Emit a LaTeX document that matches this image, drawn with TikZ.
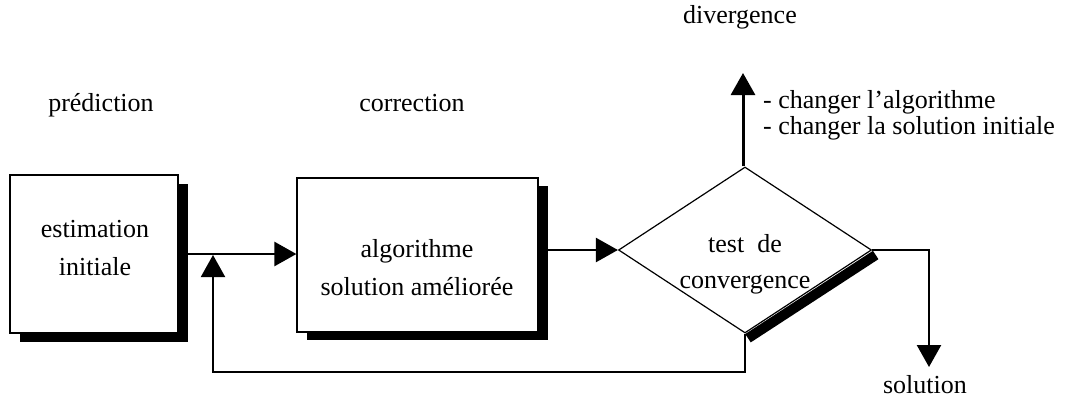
\documentclass[tikz,border=0pt]{standalone}
\usepackage{fontspec}
\setmainfont{Liberation Serif}
\usetikzlibrary{arrows.meta,shapes.geometric}
\begin{document}
\begin{tikzpicture}[x=1pt,y=-1pt,
  box/.style={draw,fill=white,line width=1.2pt,inner sep=0pt},
  shadowbox/.style={fill=black,inner sep=0pt},
  txt/.style={font=\fontsize{26}{30}\selectfont,anchor=base,inner sep=0pt},
  tip/.style={-{Triangle[length=22pt,width=24pt]}},
  conn/.style={line width=2.5pt,tip},
  fb/.style={line width=2pt}]
\useasboundingbox (0,0) rectangle (1069,400);
% shadows
\node[shadowbox,minimum width=168pt,minimum height=158pt] (b1s) at (104,263) {};
\node[shadowbox,minimum width=241pt,minimum height=154pt] (b2s) at (427.5,263) {};
% boxes
\node[box,minimum width=168pt,minimum height=158pt] (b1) at (94,254) {};
\node[box,minimum width=241pt,minimum height=154pt] (b2) at (417.5,255) {};
% diamond
\coordinate (dc) at (745,250);
\node[diamond,shape aspect=1.52,minimum width=253pt,minimum height=166pt,inner sep=0pt] (dshape) at (dc) {};
\draw[line width=10pt] ([shift={(4,5)}]dshape.east) -- ([shift={(3,5)}]dshape.south);
\node[diamond,draw,fill=white,line width=1.2pt,shape aspect=1.52,minimum width=253pt,minimum height=166pt,inner sep=0pt] (d) at (dc) {};
% texts
\node[txt] (t1a) at (95,237) {estimation};
\node[txt] (t1b) at (95,275) {initiale};
\node[txt] (t2a) at (417,257) {algorithme};
\node[txt] (t2b) at (417,295) {solution améliorée};
\node[txt] (t3a) at (745,252) {test\ \ de};
\node[txt] (t3b) at (745,288) {convergence};
\node[txt] (pred) at (101,111) {prédiction};
\node[txt] (corr) at (412,111) {correction};
\node[txt] (div) at (740,23) {divergence};
\node[txt,anchor=base west] (ch1) at (763,108) {- changer l'algorithme};
\node[txt,anchor=base west] (ch2) at (763,134) {- changer la solution initiale};
\node[txt] (sol) at (925,393) {solution};
% connectors
\coordinate (divtip) at (743,73);
\coordinate (soltip) at (929,367);
\coordinate (fbc) at (213,372);
\coordinate (fbtip) at (213,255);
\draw[conn] (b1.east) -- (b2.west |- b1.east);
\draw[conn] (b2.east |- d.west) -- (d.west);
\draw[line width=3pt,tip] (d.north -| divtip) -- (divtip);
\draw[conn] (d.east) -| (soltip);
\draw[fb,tip] (d.south) |- (fbc) -- (fbtip);
\end{tikzpicture}
\end{document}
